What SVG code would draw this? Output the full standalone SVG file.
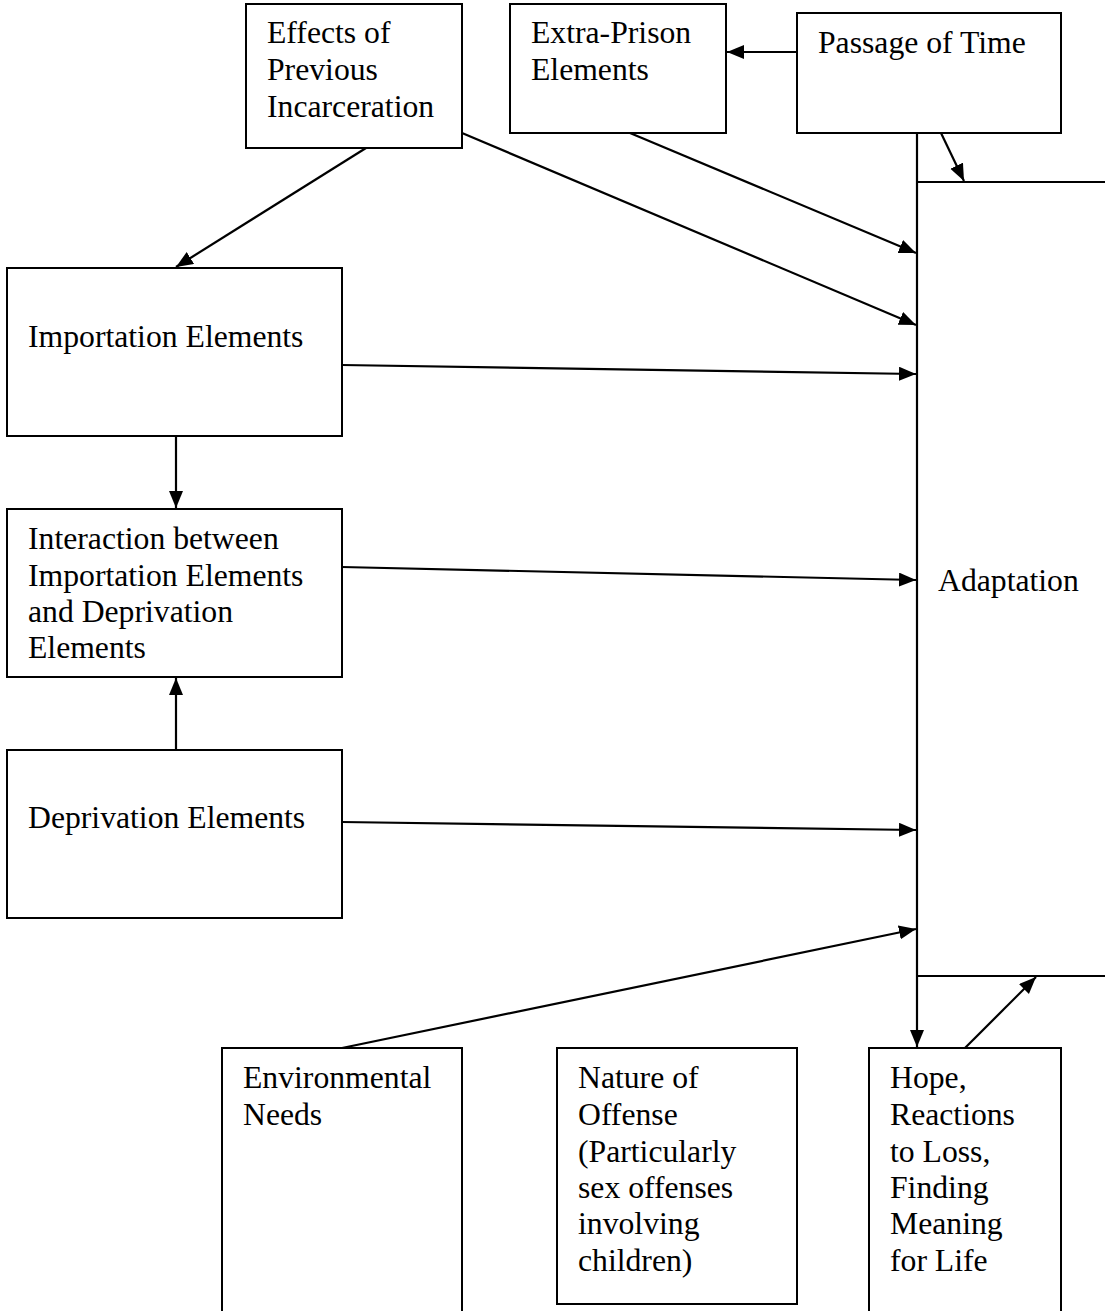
<svg xmlns="http://www.w3.org/2000/svg" width="1105" height="1311" viewBox="0 0 1105 1311">
<style>
.box{fill:#fff;stroke:#000;stroke-width:2}
.t{font-family:"Liberation Serif","Times New Roman",serif;font-size:31.7px;fill:#000}
.c{stroke:#000;stroke-width:2.2;fill:none;marker-end:url(#ah)}
</style>
<defs>
<marker id="ah" markerUnits="userSpaceOnUse" markerWidth="20" markerHeight="16" refX="17" refY="7" orient="auto">
<path d="M0,0 L17,7 L0,14 z" fill="#000"/>
</marker>
</defs>
<rect width="1105" height="1311" fill="#fff"/>
<g id="adaptation">
<rect class="box" x="917" y="182" width="210" height="794"/>
<text class="t" x="938" y="591">Adaptation</text>
</g>
<g id="effects">
<rect class="box" x="246" y="4" width="216" height="144"/>
<text class="t" x="267" y="43">Effects of</text>
<text class="t" x="267" y="80">Previous</text>
<text class="t" x="267" y="117">Incarceration</text>
</g>
<g id="extra-prison">
<rect class="box" x="510" y="4" width="216" height="129"/>
<text class="t" x="531" y="43">Extra-Prison</text>
<text class="t" x="531" y="80">Elements</text>
</g>
<g id="passage">
<rect class="box" x="797" y="13" width="264" height="120"/>
<text class="t" x="818" y="53">Passage of Time</text>
</g>
<g id="importation">
<rect class="box" x="7" y="268" width="335" height="168"/>
<text class="t" x="28" y="347">Importation Elements</text>
</g>
<g id="interaction">
<rect class="box" x="7" y="509" width="335" height="168"/>
<text class="t" x="28" y="549">Interaction between</text>
<text class="t" x="28" y="586">Importation Elements</text>
<text class="t" x="28" y="622">and Deprivation</text>
<text class="t" x="28" y="658">Elements</text>
</g>
<g id="deprivation">
<rect class="box" x="7" y="750" width="335" height="168"/>
<text class="t" x="28" y="828">Deprivation Elements</text>
</g>
<g id="environmental">
<rect class="box" x="222" y="1048" width="240" height="270"/>
<text class="t" x="243" y="1088">Environmental</text>
<text class="t" x="243" y="1125">Needs</text>
</g>
<g id="nature">
<rect class="box" x="557" y="1048" width="240" height="256"/>
<text class="t" x="578" y="1088">Nature of</text>
<text class="t" x="578" y="1125">Offense</text>
<text class="t" x="578" y="1162">(Particularly</text>
<text class="t" x="578" y="1198">sex offenses</text>
<text class="t" x="578" y="1234">involving</text>
<text class="t" x="578" y="1271">children)</text>
</g>
<g id="hope">
<rect class="box" x="869" y="1048" width="192" height="270"/>
<text class="t" x="890" y="1088">Hope,</text>
<text class="t" x="890" y="1125">Reactions</text>
<text class="t" x="890" y="1162">to Loss,</text>
<text class="t" x="890" y="1198">Finding</text>
<text class="t" x="890" y="1234">Meaning</text>
<text class="t" x="890" y="1271">for Life</text>
</g>
<g id="connectors">
<line class="c" x1="797" y1="52" x2="727" y2="52"/>
<line class="c" x1="917" y1="133" x2="917" y2="1047"/>
<line class="c" x1="941" y1="133" x2="964" y2="181"/>
<line class="c" x1="630" y1="133" x2="916" y2="253"/>
<line class="c" x1="462" y1="133" x2="916" y2="325"/>
<line class="c" x1="366" y1="148" x2="176" y2="267"/>
<line class="c" x1="342" y1="365" x2="916" y2="374"/>
<line class="c" x1="176" y1="436" x2="176" y2="508"/>
<line class="c" x1="342" y1="567" x2="916" y2="580"/>
<line class="c" x1="176" y1="750" x2="176" y2="678"/>
<line class="c" x1="342" y1="822" x2="916" y2="830"/>
<line class="c" x1="342" y1="1048" x2="916" y2="929"/>
<line class="c" x1="965" y1="1048" x2="1036" y2="977"/>
</g>
</svg>
